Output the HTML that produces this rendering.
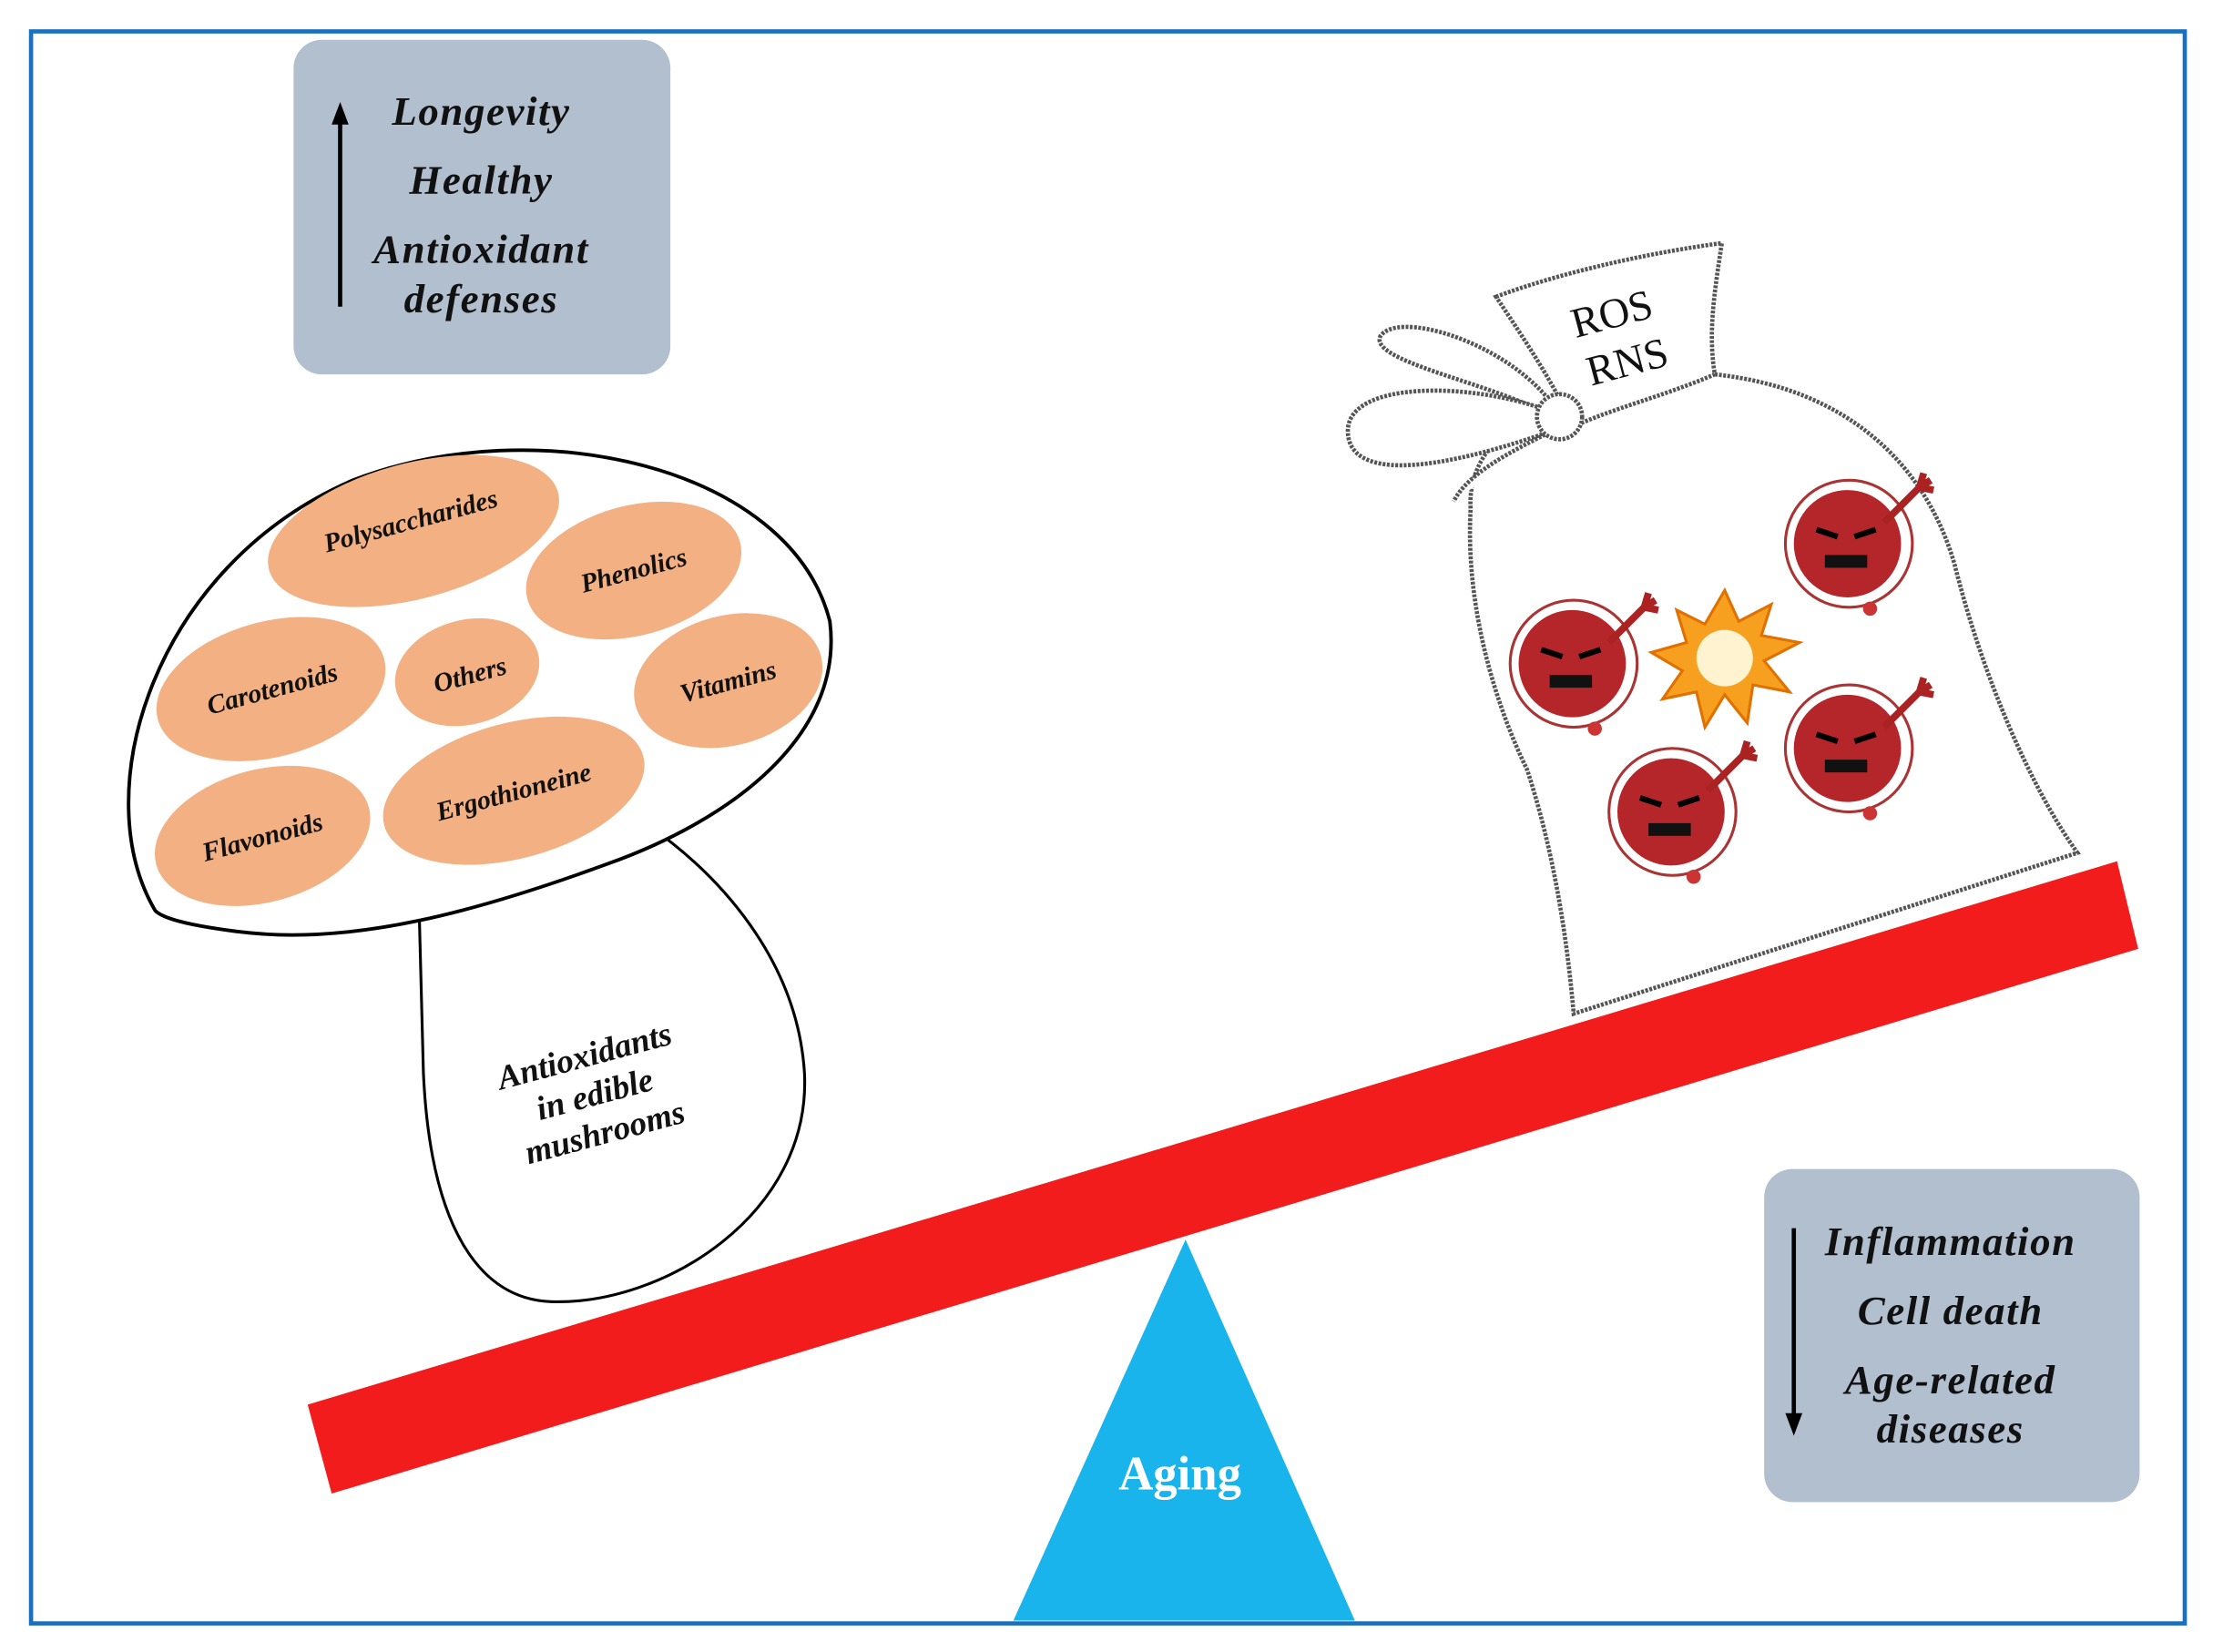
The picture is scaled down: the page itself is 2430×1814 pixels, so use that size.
<!DOCTYPE html>
<html><head><meta charset="utf-8"><style>
html,body{margin:0;padding:0;background:#fff;}
svg{display:block;}
text{font-family:"Liberation Serif",serif;}
</style></head><body>
<svg width="2430" height="1814" viewBox="0 0 1568 1170" xmlns="http://www.w3.org/2000/svg">
<rect x="0" y="0" width="1568" height="1170" fill="#fff"/>
<rect x="22" y="22" width="1526" height="1128" fill="#fff" stroke="#1a6fc0" stroke-width="3"/>

<rect x="208" y="28" width="267" height="237" rx="20" fill="#b1bfcf"/>
<line x1="241" y1="217" x2="241" y2="84" stroke="#000" stroke-width="3"/>
<polygon points="241,72 235,88 247,88" fill="#000"/>
<g font-style="italic" font-weight="bold" font-size="29" letter-spacing="1" text-anchor="middle" fill="#111">
<text x="341" y="88">Longevity</text>
<text x="341" y="137">Healthy</text>
<text x="341" y="186">Antioxidant</text>
<text x="341" y="221">defenses</text>
</g>

<rect x="1250" y="828" width="266" height="236" rx="20" fill="#b1bfcf"/>
<line x1="1271" y1="870" x2="1271" y2="1005" stroke="#000" stroke-width="3"/>
<polygon points="1271,1017 1265,1001 1277,1001" fill="#000"/>
<g font-style="italic" font-weight="bold" font-size="29" letter-spacing="1" text-anchor="middle" fill="#111">
<text x="1382" y="889">Inflammation</text>
<text x="1382" y="938">Cell death</text>
<text x="1382" y="987">Age-related</text>
<text x="1382" y="1022">diseases</text>
</g>

<polygon points="218,995 1500,610 1515,672 235,1058" fill="#f21c1c"/>
<polygon points="840,878 960,1148 718,1148" fill="#1ab4ec"/>
<text x="836" y="1055" font-size="34" font-weight="bold" fill="#fff" text-anchor="middle">Aging</text>

<path d="M297,645 L300,760 C305,870 340,920 390,922 C470,925 575,860 570,760 C565,680 510,620 460,585" fill="#fff" stroke="#000" stroke-width="2"/>
<path d="M110,645 C60,560 110,400 250,340 C380,290 560,330 588,440 C598,520 520,580 430,612 C340,645 250,670 170,660 C130,655 115,650 110,645 Z" fill="#fff" stroke="#000" stroke-width="2.5"/>
<g font-style="italic" font-weight="bold" font-size="24" text-anchor="middle" fill="#111">
<g transform="rotate(-15 420 770)">
<text x="420" y="755">Antioxidants</text>
<text x="420" y="783">in edible</text>
<text x="420" y="811">mushrooms</text>
</g>
</g>
<g fill="#f2b083">
<ellipse cx="293" cy="376" rx="106" ry="48" transform="rotate(-15 293 376)"/>
<ellipse cx="449" cy="404" rx="78" ry="46" transform="rotate(-15 449 404)"/>
<ellipse cx="192" cy="488" rx="83" ry="48" transform="rotate(-15 192 488)"/>
<ellipse cx="331" cy="476" rx="52" ry="37" transform="rotate(-15 331 476)"/>
<ellipse cx="516" cy="482" rx="68" ry="46" transform="rotate(-15 516 482)"/>
<ellipse cx="186" cy="592" rx="78" ry="47" transform="rotate(-15 186 592)"/>
<ellipse cx="364" cy="560" rx="95" ry="48" transform="rotate(-15 364 560)"/>
</g>
<g font-style="italic" font-weight="bold" font-size="19" text-anchor="middle" fill="#111">
<text x="291" y="375" transform="rotate(-15 291 369)">Polysaccharides</text>
<text x="449" y="410" transform="rotate(-15 449 404)">Phenolics</text>
<text x="193" y="494" transform="rotate(-15 193 488)">Carotenoids</text>
<text x="333" y="484" transform="rotate(-15 333 478)">Others</text>
<text x="516" y="489" transform="rotate(-15 516 483)">Vitamins</text>
<text x="186" y="599" transform="rotate(-15 186 593)">Flavonoids</text>
<text x="364" y="567" transform="rotate(-15 364 561)">Ergothioneine</text>
</g>

<g fill="#fff" stroke="#555" stroke-width="3" stroke-dasharray="2 1">
<path d="M1100,292 C1060,300 1040,330 1042,360 C1038,430 1060,500 1082,545 C1100,600 1110,660 1115,718 L1472,604 C1440,560 1405,480 1385,400 C1365,330 1310,275 1215,265"/>
<path d="M1060,210 C1100,195 1160,180 1220,172 C1215,205 1210,235 1215,265 C1180,280 1140,290 1115,302 C1100,270 1080,240 1060,210 Z"/>
<path d="M1095,280 C1060,240 990,220 978,238 C970,255 1050,270 1090,290"/>
<path d="M1095,290 C1040,270 955,270 955,305 C955,335 1000,340 1100,305"/>
<path d="M1100,305 C1070,320 1040,335 1030,355"/>
<circle cx="1105" cy="295" r="16"/>
</g>
<g font-size="30" fill="#111" text-anchor="middle">
<text x="1142" y="232" transform="rotate(-15 1142 222)">ROS</text>
<text x="1153" y="266" transform="rotate(-15 1153 256)">RNS</text>
</g>

<g id="rad">
<circle cx="1115" cy="470" r="45" fill="none" stroke="#a33" stroke-width="2"/>
<circle cx="1114" cy="470" r="38" fill="#b5262b"/>
<path d="M1092,460 l15,5 M1134,460 l-15,5" stroke="#000" stroke-width="4"/>
<rect x="1098" y="478" width="30" height="9" fill="#111"/>
<path d="M1140,455 l25,-25 m0,0 l8,-5 m-8,5 l10,2 m-10,-2 l3,-10" stroke="#a22" stroke-width="5" fill="none"/>
<circle cx="1130" cy="516" r="5" fill="#c33"/>
</g>
<use href="#rad" transform="translate(195,-85)"/>
<use href="#rad" transform="translate(195,60)"/>
<use href="#rad" transform="translate(70,105)"/>
<polygon points="1222,418 1232,440 1255,428 1248,450 1275,455 1250,468 1268,490 1242,485 1238,512 1222,492 1208,515 1202,490 1178,495 1192,475 1170,462 1195,455 1188,432 1208,442" fill="#f7a020" stroke="#e07000" stroke-width="2"/>
<circle cx="1222" cy="466" r="20" fill="#fff3d0"/>
</svg>
</body></html>
